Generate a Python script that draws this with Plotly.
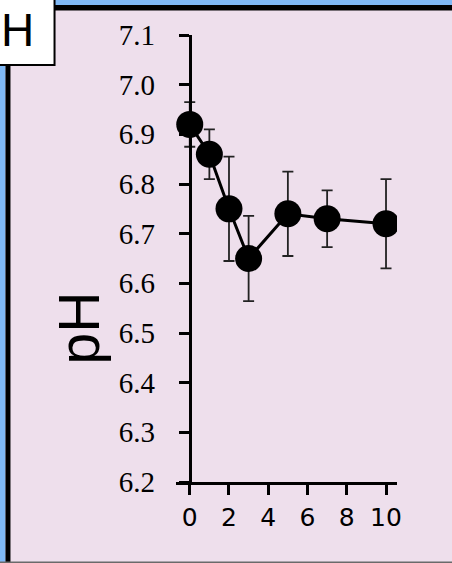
import plotly.graph_objects as go

# ---- data ----
days = [0, 1, 2, 3, 5, 7, 10]
ph_mean = [6.92, 6.86, 6.75, 6.65, 6.74, 6.73, 6.72]
ph_err = [0.045, 0.05, 0.105, 0.086, 0.085, 0.057, 0.09]
x_ticks = [0, 2, 4, 6, 8, 10]
y_ticks = [6.2, 6.3, 6.4, 6.5, 6.6, 6.7, 6.8, 6.9, 7.0, 7.1]
y_tick_text = ["6.2", "6.3", "6.4", "6.5", "6.6", "6.7", "6.8", "6.9", "7.0", "7.1"]
panel_label = "H"
y_title = "pH"

W, H = 452, 563
L, R, T, B = 176.3, 55, 35, 81
pw, ph = W - L - R, H - T - B
x_range = [-0.7, 10.56]
y_range = [6.2, 7.1]

BG = "#EEDFEC"
BLUE = "#80B9F6"


def px(xp):
    return (xp - L) / pw


def py(yp):
    return (H - B - yp) / ph


fig = go.Figure()
fig.add_trace(go.Scatter(
    x=days, y=ph_mean,
    mode="lines+markers",
    line=dict(color="black", width=3),
    marker=dict(color="black", size=27),
    error_y=dict(type="data", array=ph_err, visible=True,
                 color="#222222", thickness=1.8, width=5.5),
    cliponaxis=True,
    showlegend=False,
    hoverinfo="skip",
))

yaxis_pos = (0 - x_range[0]) / (x_range[1] - x_range[0])

fig.update_layout(
    width=W, height=H,
    margin=dict(l=L, r=R, t=T, b=B, pad=0),
    paper_bgcolor=BG, plot_bgcolor=BG,
    xaxis=dict(
        range=x_range, tickvals=x_ticks, ticktext=[str(v) for v in x_ticks],
        showgrid=False, zeroline=False,
        showline=True, linecolor="black", linewidth=3,
        ticks="outside", ticklen=10, tickwidth=3, tickcolor="black",
        tickfont=dict(family="DejaVu Sans", size=25, color="black"),
        ticklabelstandoff=1,
    ),
    yaxis=dict(
        range=y_range, tickvals=y_ticks, ticktext=y_tick_text,
        showgrid=False, zeroline=False,
        anchor="free", position=yaxis_pos,
        showline=True, linecolor="black", linewidth=3,
        ticks="outside", ticklen=10, tickwidth=3, tickcolor="black",
        tickfont=dict(family="Liberation Serif, Times New Roman, serif", size=29, color="black"),
        ticklabelstandoff=18,
    ),
    font=dict(family="Liberation Sans", color="black"),
)

shapes = [
    dict(type="rect", xref="paper", yref="paper", x0=px(0), x1=px(W), y0=py(5), y1=py(0),
         fillcolor=BLUE, line=dict(width=0), layer="above"),
    dict(type="rect", xref="paper", yref="paper", x0=px(0), x1=px(W), y0=py(10.5), y1=py(5),
         fillcolor="black", line=dict(width=0), layer="above"),
    dict(type="rect", xref="paper", yref="paper", x0=px(0), x1=px(6), y0=py(H), y1=py(0),
         fillcolor=BLUE, line=dict(width=0), layer="above"),
    dict(type="rect", xref="paper", yref="paper", x0=px(6), x1=px(11), y0=py(H), y1=py(5),
         fillcolor="black", line=dict(width=0), layer="above"),
    dict(type="rect", xref="paper", yref="paper", x0=px(0), x1=px(W), y0=py(H), y1=py(561.5),
         fillcolor="#6a6a6a", line=dict(width=0), layer="above"),
    dict(type="rect", xref="paper", yref="paper", x0=px(-2), x1=px(55), y0=py(65), y1=py(-2),
         fillcolor="white", line=dict(color="black", width=2), layer="above"),
]
fig.update_layout(shapes=shapes)

fig.add_annotation(text=panel_label, xref="paper", yref="paper",
                   x=px(18), y=py(30), xanchor="center", yanchor="middle",
                   showarrow=False, font=dict(family="Liberation Sans", size=46, color="black"))
fig.add_annotation(text=y_title, xref="paper", yref="paper", textangle=-90,
                   x=px(79), y=py(328), xanchor="center", yanchor="middle",
                   showarrow=False, font=dict(family="Liberation Sans", size=57, color="black"))

fig.write_html(
    "out.html",
    config={"displayModeBar": False, "staticPlot": True},
    post_script=(
        "document.documentElement.style.margin='0';"
        "document.documentElement.style.overflow='hidden';"
        "document.body.style.margin='0';document.body.style.padding='0';"
        "document.body.style.overflow='hidden';"
    ),
)
